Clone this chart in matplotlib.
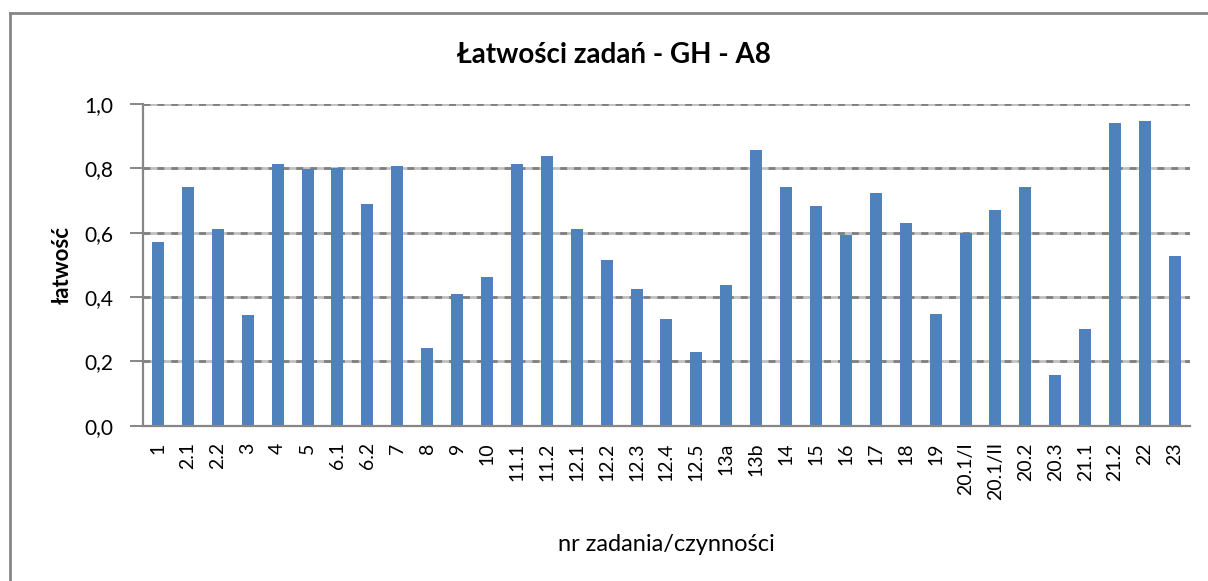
import matplotlib.pyplot as plt
from matplotlib.lines import Line2D

# dane
zadania = ['1', '2.1', '2.2', '3', '4', '5', '6.1', '6.2', '7', '8', '9', '10',
           '11.1', '11.2', '12.1', '12.2', '12.3', '12.4', '12.5', '13a', '13b',
           '14', '15', '16', '17', '18', '19', '20.1/I', '20.1/II', '20.2',
           '20.3', '21.1', '21.2', '22', '23']
latwosc = [0.571, 0.742, 0.611, 0.343, 0.813, 0.797, 0.801, 0.689, 0.807, 0.242,
           0.409, 0.462, 0.813, 0.838, 0.611, 0.515, 0.425, 0.332, 0.229, 0.437,
           0.857, 0.742, 0.683, 0.593, 0.723, 0.630, 0.347, 0.599, 0.671, 0.742,
           0.157, 0.300, 0.941, 0.947, 0.527]
y_ticks = [0.0, 0.2, 0.4, 0.6, 0.8, 1.0]

plt.rcParams['font.family'] = ['Lato', 'DejaVu Sans']

fig = plt.figure(figsize=(12.08, 5.81), dpi=100)
ax = fig.add_axes([0.1184, 0.2673, 0.8666, 0.5537])

x = range(len(zadania))
ax.bar(x, latwosc, width=0.4, color='#4F81BD', zorder=3)

ax.set_xlim(-0.5, len(zadania) - 0.5)
ax.set_ylim(0, 1.0)
ax.set_yticks(y_ticks)
ax.set_yticklabels([f'{v:.1f}'.replace('.', ',') for v in y_ticks], fontsize=15)
ax.set_xticks(list(x))
ax.set_xticklabels(zadania, rotation=90, fontsize=14)

# linie siatki: jasne tło + ciemne kreski
for v in y_ticks[1:]:
    ax.axhline(v, color='#C0C0C0', linewidth=2, zorder=1)
ax.grid(axis='y', color='#808080', linestyle=(0, (2.5, 2.5)), linewidth=2, zorder=2)
ax.tick_params(axis='y', length=9.5, color='#868686', width=1.4, pad=12)
ax.tick_params(axis='x', length=0, pad=12)

for s in ['top', 'right']:
    ax.spines[s].set_visible(False)
for s in ['left', 'bottom']:
    ax.spines[s].set_color('#868686')
    ax.spines[s].set_linewidth(1.6)
ax.spines['bottom'].set_zorder(4)

ax.set_ylabel('łatwość', fontsize=16, fontweight='bold', labelpad=8)
ax.set_xlabel('nr zadania/czynności', fontsize=17, labelpad=24)
fig.text(0.508, 0.906, 'Łatwości zadań - GH - A8', fontsize=20,
         fontweight='bold', ha='center', va='center')

# ramka obszaru wykresu (widoczna tylko górna i lewa krawędź)
fig.add_artist(Line2D([10 / 1208, 1.0], [1 - 13 / 581] * 2, color='#868686', linewidth=2))
fig.add_artist(Line2D([10 / 1208] * 2, [0.0, 1 - 13 / 581], color='#868686', linewidth=2))

fig.savefig('out.png', dpi=100)
